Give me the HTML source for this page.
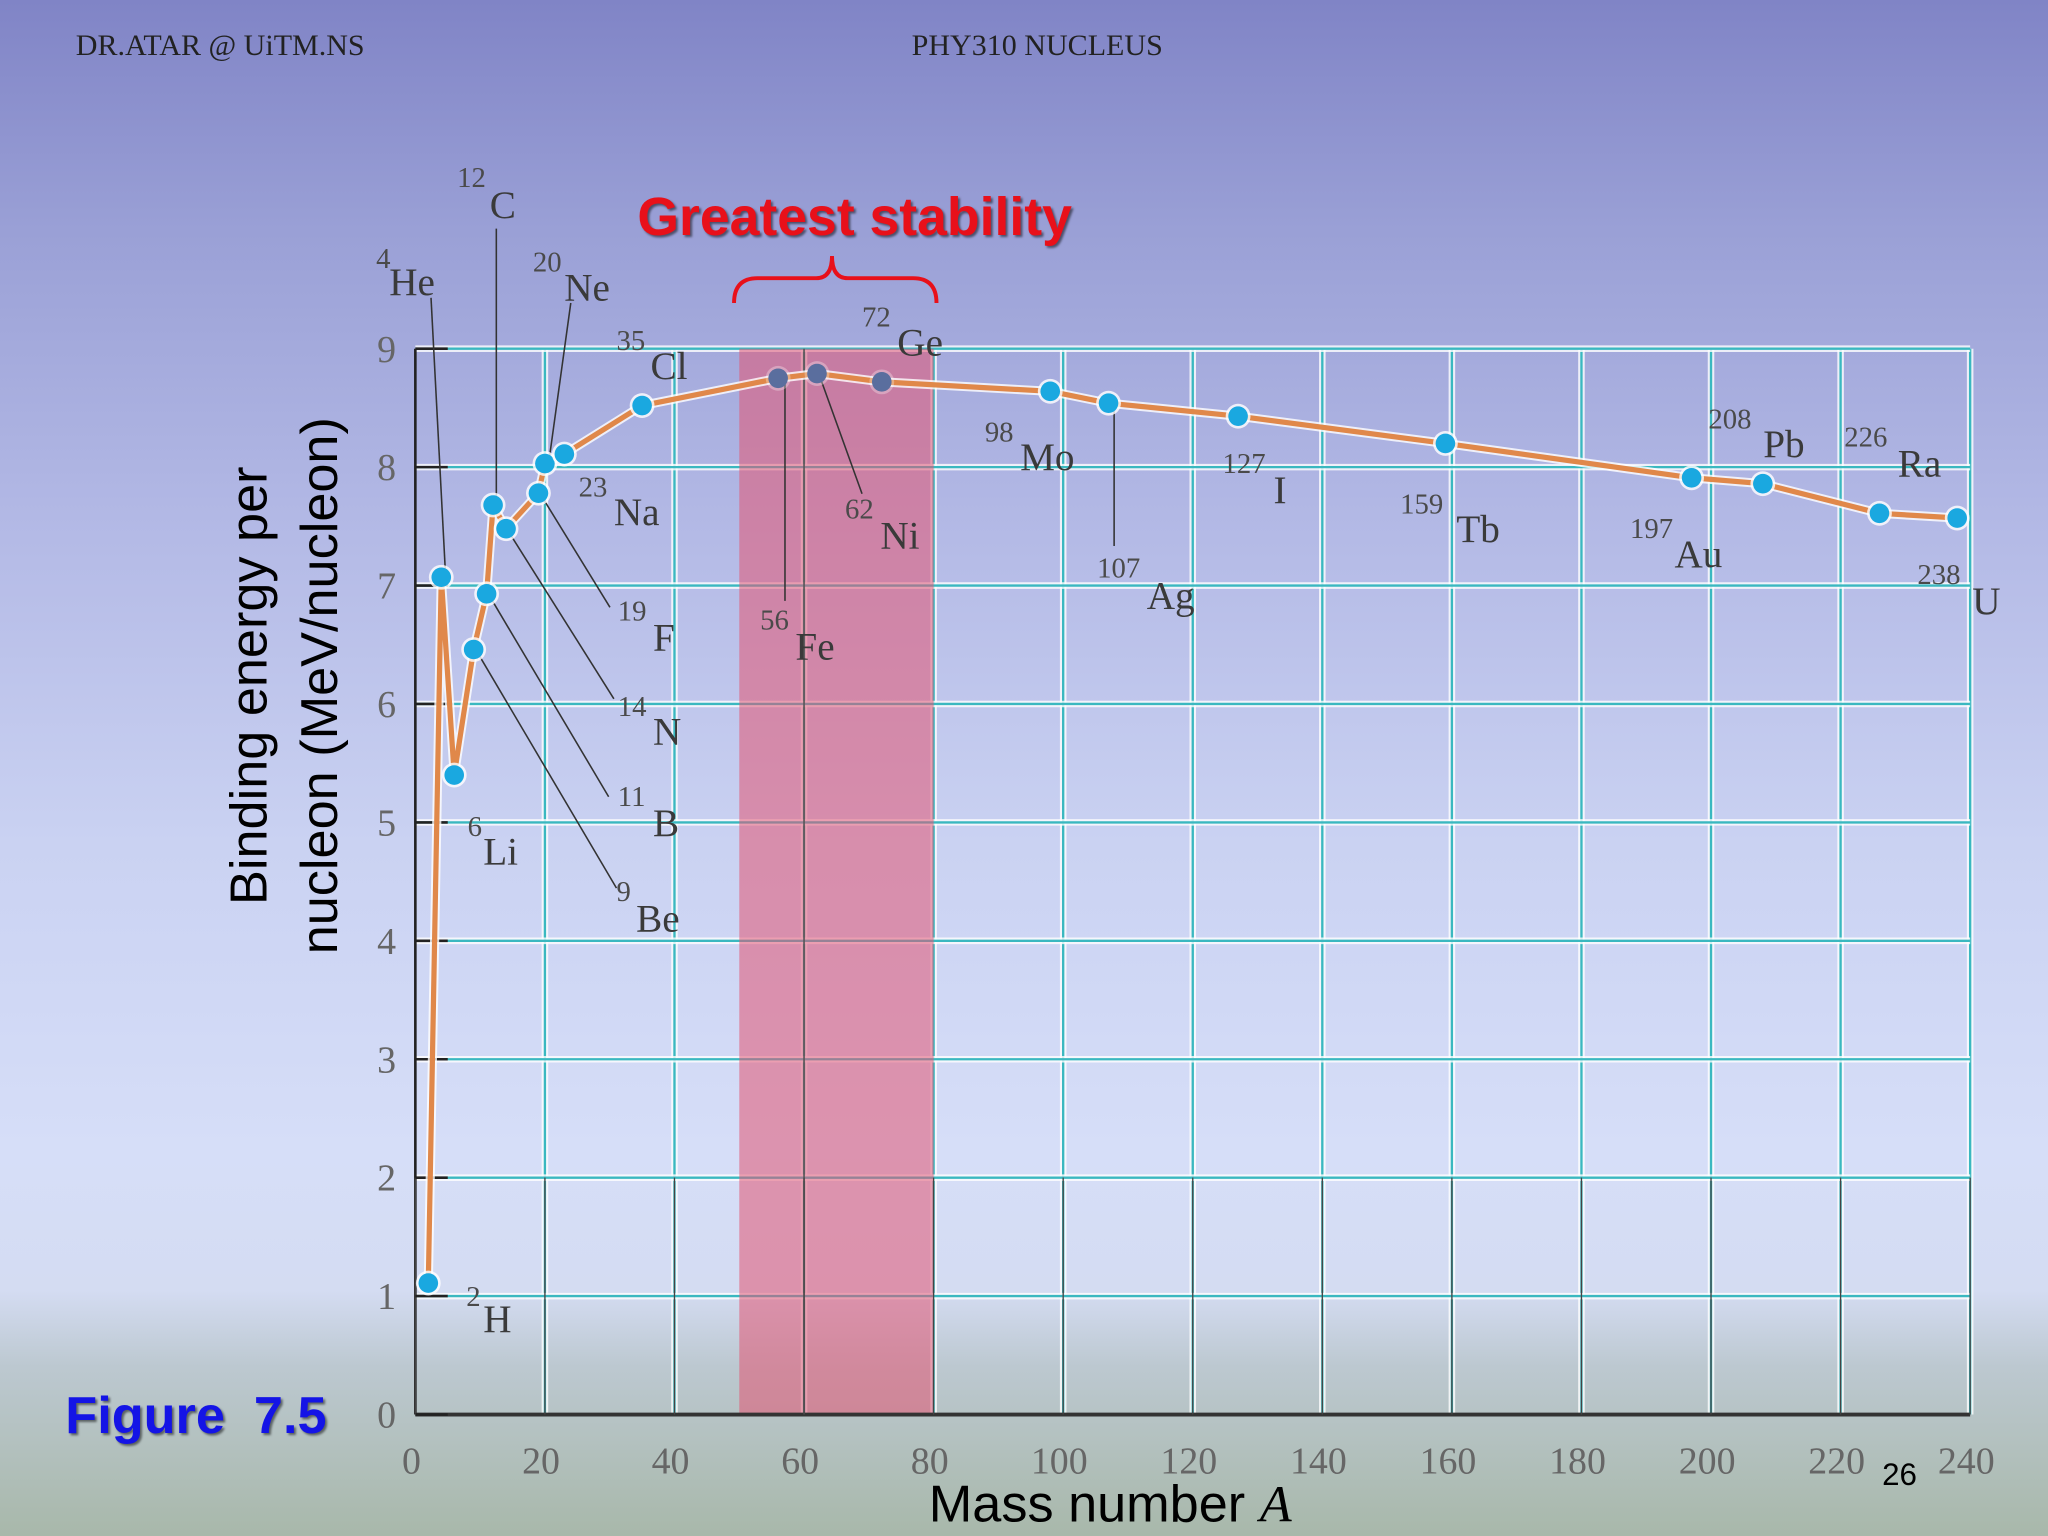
<!DOCTYPE html>
<html><head><meta charset="utf-8"><style>
html,body{margin:0;padding:0;width:2048px;height:1536px;overflow:hidden}
body{background:linear-gradient(to bottom,#8084c6 0%,#9aa0d6 15%,#b4bae6 35%,#cad2f2 55%,#d6def8 75%,#d4dcf2 84%,#bcc8d0 89%,#a8b8aa 100%)}
svg{display:block}
.lab{font-family:"Liberation Serif",serif;fill:#3a3a3a;font-size:30px}
.sup{font-family:"Liberation Serif",serif;fill:#4a4a4a;font-size:22px}
.tick{font-family:"Liberation Serif",serif;fill:#666;font-size:29px}
</style></head><body>
<svg id="chart" width="2048" height="1536" viewBox="0 0 1568 1176" xmlns="http://www.w3.org/2000/svg">
<text x="58" y="42" font-family="Liberation Serif,serif" font-size="23" fill="#222">DR.ATAR @ UiTM.NS</text>
<text x="698" y="42" font-family="Liberation Serif,serif" font-size="23" fill="#222">PHY310 NUCLEUS</text>
<g id="grid"></g>
<rect id="band" fill="rgba(225,85,115,0.55)"></rect>
<g id="axes"></g>
<g id="leaders" stroke="#333" stroke-width="1.2"></g>
<g id="series"></g>
<g id="labels"></g>
<text x="488" y="180" font-family="Liberation Sans,sans-serif" font-weight="bold" font-size="41" fill="#e8101a" style="text-shadow:2px 2px 2px rgba(0,0,0,0.5)">Greatest stability</text>
<path d="M562,232 Q562,213 580,213 L625,213 Q637,213 637,196 Q637,213 649,213 L699,213 Q717,213 717,232" fill="none" stroke="#e8101a" stroke-width="3"/>
<text transform="translate(204,525) rotate(-90)" text-anchor="middle" font-family="Liberation Sans,sans-serif" font-size="40" fill="#000">Binding energy per</text>
<text transform="translate(258,525) rotate(-90)" text-anchor="middle" font-family="Liberation Sans,sans-serif" font-size="40" fill="#000">nucleon (MeV/nucleon)</text>
<text x="850" y="1165" text-anchor="middle" font-family="Liberation Sans,sans-serif" font-size="40" fill="#000">Mass number <tspan font-family="Liberation Serif,serif" font-style="italic">A</tspan></text>
<text x="50" y="1097" font-family="Liberation Sans,sans-serif" font-weight="bold" font-size="40" fill="#1414e6" style="text-shadow:2px 2px 2px rgba(0,0,0,0.5);white-space:pre" xml:space="preserve">Figure  7.5</text>
<text x="1441" y="1137" font-family="Liberation Sans,sans-serif" font-size="24" fill="#000">26</text>
</svg>
<script>
const massNumbers=[2,4,6,9,11,12,14,19,20,23,35,56,62,72,98,107,127,159,197,208,226,238];
const bindingEnergy=[1.11,7.07,5.40,6.46,6.93,7.68,7.48,7.78,8.03,8.11,8.52,8.75,8.79,8.72,8.64,8.54,8.43,8.20,7.91,7.86,7.61,7.57];
const xTicks=[0,20,40,60,80,100,120,140,160,180,200,220,240];
const yTicks=[0,1,2,3,4,5,6,7,8,9];
const bandRange=[50,80];
const inBand=[56,62,72];
const NS='http://www.w3.org/2000/svg';
const X0=318,XS=4.96,Y0=1083,YS=90.67;
function sx(a){return X0+a*XS}
function sy(v){return Y0-v*YS}
function mk(tag,attrs,parent){const e=document.createElementNS(NS,tag);for(const k in attrs)e.setAttribute(k,attrs[k]);parent.appendChild(e);return e}
const grid=document.getElementById('grid');
xTicks.forEach(t=>{if(t===0)return;
 mk('line',{x1:sx(t),x2:sx(t),y1:sy(9),y2:sy(0),stroke:'#fff','stroke-width':5,opacity:0.8},grid);
 const l=mk('line',{x1:sx(t),x2:sx(t),y1:sy(9),y2:sy(0),stroke:'#3ab8c0','stroke-width':1.8},grid);
 
 
});
yTicks.forEach(t=>{if(t===0)return;
 mk('line',{x1:sx(0),x2:sx(240),y1:sy(t),y2:sy(t),stroke:'#fff','stroke-width':5,opacity:0.8},grid);
 const l=mk('line',{x1:sx(0),x2:sx(240),y1:sy(t),y2:sy(t),stroke:'#3ab8c0','stroke-width':1.8},grid);
 
 
});
const band=document.getElementById('band');
band.setAttribute('x',sx(bandRange[0]));band.setAttribute('width',sx(bandRange[1])-sx(bandRange[0]));
band.setAttribute('y',sy(9));band.setAttribute('height',sy(0)-sy(9));
const axes=document.getElementById('axes');
mk('line',{x1:sx(0),x2:sx(0),y1:sy(9),y2:sy(0),stroke:'#222','stroke-width':2},axes);
mk('line',{x1:sx(0),x2:sx(240),y1:sy(0),y2:sy(0),stroke:'#333','stroke-width':3},axes);
mk('line',{x1:sx(60),x2:sx(60),y1:sy(9),y2:sy(0),stroke:'#555','stroke-width':1.2},axes);
xTicks.forEach(t=>{mk('line',{x1:sx(t),x2:sx(t),y1:sy(0),y2:sy(2),stroke:'#444','stroke-width':1},axes);
 const tx=mk('text',{x:sx(t)-3,y:1128,'text-anchor':'middle','class':'tick'},axes);tx.textContent=t;
 
 
});
yTicks.forEach(t=>{mk('line',{x1:sx(0),x2:sx(5),y1:sy(t),y2:sy(t),stroke:'#222','stroke-width':2},axes);
 const tx=mk('text',{x:296,y:sy(t)+10,'text-anchor':'middle','class':'tick'},axes);tx.textContent=t;
 
 
});
const lead=document.getElementById('leaders');
[[330,228,341,438],[380,175,380,383],[437,232,420,355],[601,292,601,460],[629,292,660,378],[853,312,853,418],[416,382,467,465],[390,408,470,535],[377,460,466,610],[367,502,472,680]].forEach(p=>mk('line',{x1:p[0],y1:p[1],x2:p[2],y2:p[3]},lead));
const ser=document.getElementById('series');
const pts=massNumbers.map((a,i)=>sx(a)+','+sy(bindingEnergy[i])).join(' ');
mk('polyline',{points:pts,fill:'none',stroke:'#fff','stroke-width':7,'stroke-linejoin':'round',opacity:0.8},ser);
const pl=mk('polyline',{points:pts,fill:'none',stroke:'#e0884a','stroke-width':4,'stroke-linejoin':'round'},ser);


massNumbers.forEach((a,i)=>{const b=inBand.includes(a);
 mk('circle',{cx:sx(a),cy:sy(bindingEnergy[i]),r:9.5,fill:'#fff',opacity:b?0.3:0.8},ser);
 const c=mk('circle',{cx:sx(a),cy:sy(bindingEnergy[i]),r:7.5,fill:b?'#5a6e9e':'#1aa8e0'},ser);
 
 
});
const labs=[['4','He',288,205,298,226],['12','C',350,143,375,167],['20','Ne',408,208,432,230],['35','Cl',472,268,498,290],['72','Ge',660,250,687,272],['23','Na',443,380,470,402],['62','Ni',647,397,674,420],['98','Mo',754,338,781,360],['127','I',936,362,975,385],['159','Tb',1072,393,1115,415],['208','Pb',1308,328,1350,350],['226','Ra',1412,342,1453,365],['197','Au',1248,412,1282,434],['238','U',1468,447,1510,470],['107','Ag',840,442,878,466],['56','Fe',582,482,609,505],['19','F',473,475,500,498],['14','N',473,548,500,570],['11','B',473,617,500,640],['9','Be',472,690,487,713],['6','Li',358,640,370,662],['2','H',357,1000,370,1020]];
const lg=document.getElementById('labels');
labs.forEach(l=>{const red=(l[1]==='Fe'||l[1]==='Ni');
 const s=mk('text',{x:l[2],y:l[3],'class':'sup'},lg);s.textContent=l[0];if(red)s.setAttribute('fill','#8a3040');
 const t=mk('text',{x:l[4],y:l[5],'class':'lab'},lg);t.textContent=l[1];if(red)t.setAttribute('fill','#7a2838');
 
 
});
</script>
</body></html>
